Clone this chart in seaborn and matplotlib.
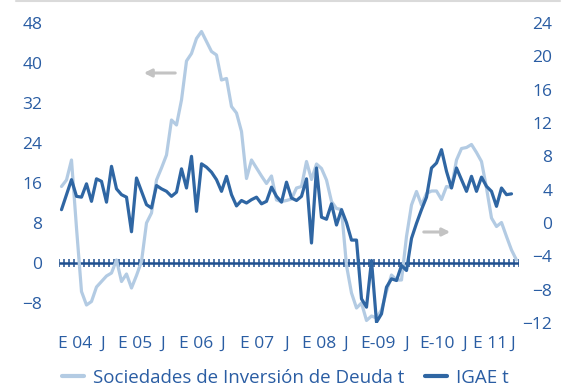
import matplotlib
matplotlib.use("Agg")
import matplotlib.pyplot as plt
import numpy as np
import pandas as pd
import seaborn as sns
from matplotlib.lines import Line2D

# Monthly series, Jan 2004 onwards (annual % change)
sociedades = [15.3, 16.6, 20.6, 7.0, -5.7, -8.4, -7.7, -4.8, -3.7, -2.6,
              -2.0, 0.6, -3.7, -2.2, -5.0, -2.5, 0.3, 8.0, 10.0, 16.6,
              19.0, 21.6, 28.6, 27.6, 32.6, 40.4, 41.9, 44.9, 46.3, 44.3,
              42.3, 41.6, 36.6, 36.9, 31.3, 30.0, 26.3, 16.9, 20.6, 19.0,
              17.4, 15.9, 17.4, 12.6, 12.3, 12.5, 12.8, 15.0, 15.3, 20.3,
              16.7, 19.8, 18.9, 16.6, 12.3, 10.9, 10.7, -0.5, -6.0, -9.0,
              -8.0, -11.5, -10.6, -11.0, -9.4, -5.7, -2.4, -3.4, -3.4, 5.3,
              11.6, 14.3, 11.6, 13.9, 14.4, 14.4, 12.7, 15.3, 15.1, 20.6,
              22.9, 23.1, 23.7, 22.1, 20.3, 15.0, 9.0, 7.3, 8.1, 5.3,
              2.6, 0.6]

igae = [1.6, 3.4, 5.2, 3.2, 3.1, 4.7, 2.6, 5.3, 5.0, 2.5,
        6.8, 4.1, 3.4, 3.1, -1.05, 5.4, 3.8, 2.2, 1.8, 4.5,
        4.1, 3.8, 3.2, 3.7, 6.5, 4.2, 8.0, 1.4, 7.1, 6.7,
        6.1, 5.2, 3.8, 5.6, 3.4, 2.05, 2.7, 2.4, 2.8, 3.1,
        2.3, 2.6, 4.3, 3.2, 2.5, 4.9, 3.0, 2.7, 3.2, 5.3,
        -2.4, 6.6, 0.7, 0.45, 2.3, -0.24, 1.6, 0.04, -2.05, -2.05,
        -9.1, -10.1, -4.5, -11.9, -10.9, -7.7, -6.7, -6.9, -5.1, -5.7,
        -1.85, -0.04, 1.6, 3.1, 6.6, 7.2, 8.8, 6.2, 4.2, 6.6,
        5.2, 3.8, 5.6, 3.8, 5.5, 4.4, 3.8, 2.0, 4.2, 3.4,
        3.5]

x_labels = ["E 04", "J", "E 05", "J", "E 06", "J", "E 07", "J",
            "E 08", "J", "E-09", "J", "E-10", "J", "E 11", "J"]
x_label_pos = [2.7, 8.3, 14.7, 20.3, 26.9, 32.3, 39.2, 45.1,
               51.5, 56.9, 63.3, 69.1, 75.1, 80.7, 85.7, 90.3]

left_ticks = [-8, 0, 8, 16, 24, 32, 40, 48]
right_ticks = [-12, -8, -4, 0, 4, 8, 12, 16, 20, 24]

label_s = "Sociedades de Inversión de Deuda t"
label_i = "IGAE t"

sns.set_style("white")
plt.rcParams["font.family"] = ["Open Sans", "DejaVu Sans"]

DARK = "#2F66A3"
LIGHT = "#B3CBE3"
TEXT = "#2A5DA3"
AXIS = "#1F4F8F"
ARROW = "#C3C3C3"

W, H = 569, 387
fig = plt.figure(figsize=(W / 100, H / 100), dpi=100)
ax = fig.add_axes([59 / W, 1 - 323 / H, 460 / W, 300 / H])
ax2 = ax.twinx()

n = len(sociedades)
df_s = pd.DataFrame({"mes": np.arange(n), "valor": sociedades})
df_i = pd.DataFrame({"mes": np.arange(len(igae)), "valor": igae})

# category axis crossing at zero, with a tick at every month boundary
ax.hlines(0, -0.5, n - 0.5, color=AXIS, lw=1.8, zorder=1)
ax.vlines(np.arange(n + 1) - 0.5, -0.8, 0.8, color=AXIS, lw=1.1, zorder=1)

sns.lineplot(data=df_s, x="mes", y="valor", ax=ax, color=LIGHT, lw=2.3,
             zorder=2, legend=False)
sns.lineplot(data=df_i, x="mes", y="valor", ax=ax2, color=DARK, lw=2.3,
             zorder=3, legend=False)

ax.set_xlim(-0.5, n - 0.5)
ax.set_ylim(-12, 48)
ax2.set_ylim(-12, 24)

ax.set_yticks(left_ticks)
ax2.set_yticks(right_ticks)
ax.set_xticks(x_label_pos, x_labels)

for a in (ax, ax2):
    a.set_xlabel("")
    a.set_ylabel("")
    for s in a.spines.values():
        s.set_visible(False)
    a.grid(False)

ax.tick_params(axis="y", length=0, pad=12, labelsize=12.5, labelcolor=TEXT)
ax.tick_params(axis="x", length=0, pad=9, labelsize=12.5, labelcolor=TEXT)
ax2.tick_params(axis="y", length=0, pad=24, labelsize=12.5, labelcolor=TEXT)
for t in ax2.get_yticklabels():
    t.set_horizontalalignment("right")

# arrows pointing to the axis each series is read against
ax.annotate("", xy=((141 - 59) / 460, (323 - 73) / 300),
            xytext=((178 - 59) / 460, (323 - 73) / 300), xycoords="axes fraction",
            arrowprops=dict(arrowstyle="-|>", color=ARROW, lw=2.2, mutation_scale=11))
ax.annotate("", xy=((453 - 59) / 460, (323 - 232) / 300),
            xytext=((421 - 59) / 460, (323 - 232) / 300), xycoords="axes fraction",
            arrowprops=dict(arrowstyle="-|>", color=ARROW, lw=2.2, mutation_scale=11))

handles = [Line2D([], [], color=LIGHT, lw=3), Line2D([], [], color=DARK, lw=3)]
leg = fig.legend(handles, [label_s, label_i], loc="center",
                 bbox_to_anchor=(285 / W, 1 - 378 / H), ncol=2, frameon=False,
                 handlelength=1.2, handletextpad=0.45, columnspacing=1.1,
                 fontsize=13.5, borderaxespad=0, borderpad=0)
for t in leg.get_texts():
    t.set_color(TEXT)

fig.add_artist(Line2D([16 / W, 560 / W], [1 - 1 / H, 1 - 1 / H], color="#DADADA",
                      lw=1.5, transform=fig.transFigure))

fig.savefig("out.png", dpi=100)
